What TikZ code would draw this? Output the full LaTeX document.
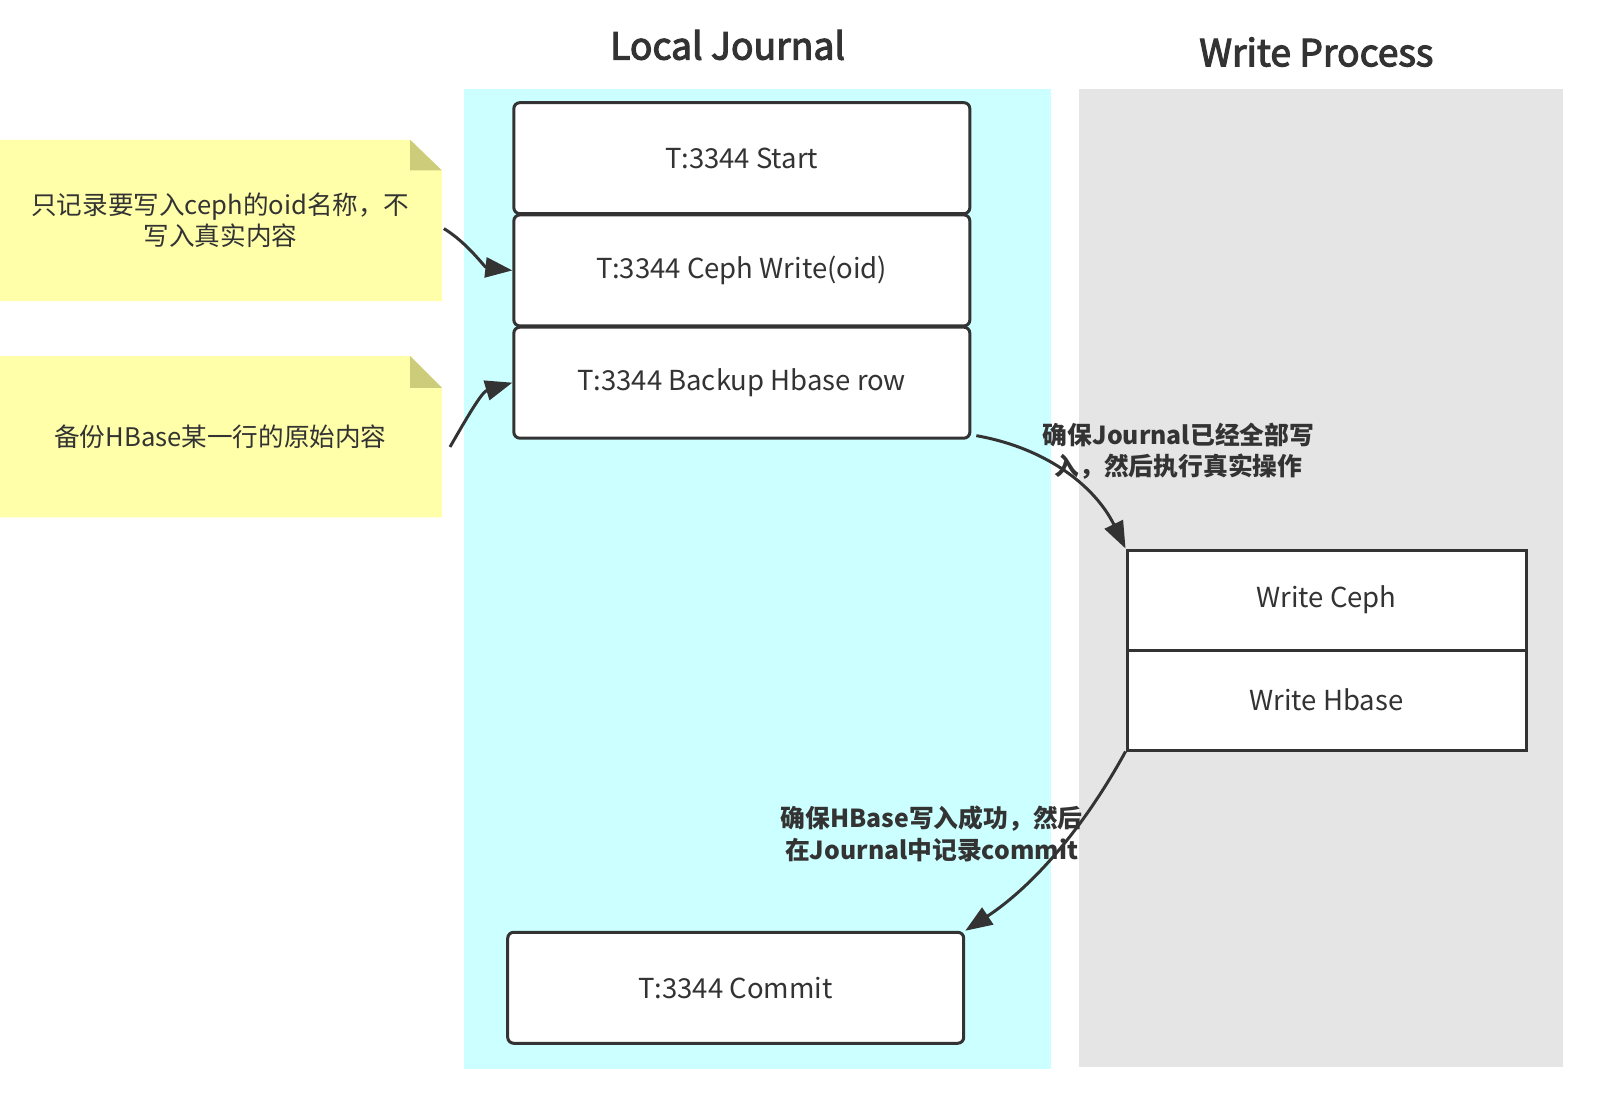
\documentclass[tikz,border=0pt]{standalone}
\usepackage{fontspec}
\setmainfont{Noto Sans CJK SC}
\newfontfamily\ttlfont[FakeBold=3]{Noto Sans CJK SC}
\usetikzlibrary{arrows.meta}
\definecolor{ink}{HTML}{333333}
\definecolor{cyanpanel}{HTML}{CCFFFF}
\definecolor{graypanel}{HTML}{E5E5E5}
\definecolor{notey}{HTML}{FFFFAA}
\definecolor{notefold}{HTML}{CCCC7A}
\tikzset{
  jbox/.style={draw=ink,line width=3pt,rounded corners=6pt,fill=white,minimum width=456pt,minimum height=111pt,text=ink,font=\fontsize{27.5}{32}\selectfont,inner sep=0pt},
  wbox/.style={draw=ink,line width=3pt,fill=white,minimum width=399pt,minimum height=100pt,text=ink,font=\fontsize{27.5}{32}\selectfont,inner sep=0pt},
  ttl/.style={text=ink,font=\fontsize{37.3}{44}\ttlfont},
  notetxt/.style={text=ink,font=\fontsize{25.6}{31.6}\selectfont,align=center},
  lbl/.style={text=ink,font=\fontsize{24.8}{31.6}\selectfont\bfseries,align=center},
  conn/.style={draw=ink,line width=3pt,-{Triangle[length=27pt,width=20pt]}}
}
\begin{document}
\begin{tikzpicture}[x=1.0204pt,y=-1.0204pt]
\useasboundingbox (0,0) rectangle (1568,1080);
% panels
\fill[cyanpanel] (455,87) rectangle (1030,1048);
\fill[graypanel] (1057,87) rectangle (1532,1046);
\node[ttl] (t1) at (713,44) {Local Journal};
\node[ttl] (t2) at (1290,51) {Write Process};
% notes
\fill[notey] (0,137) -- (402,137) -- (433,167) -- (433,295) -- (0,295) -- cycle;
\fill[notefold] (402,137) -- (433,167) -- (402,167) -- cycle;
\node[notetxt] (n1) at (216,216) {只记录要写入ceph的oid名称，不\\写入真实内容};
\fill[notey] (0,349) -- (402,349) -- (433,380) -- (433,507) -- (0,507) -- cycle;
\fill[notefold] (402,349) -- (433,380) -- (402,380) -- cycle;
\node[notetxt] (n2) at (216,428) {备份HBase某一行的原始内容};
% journal boxes
\node[jbox] (b1) at (727,155) {T:3344 Start};
\node[jbox] (b2) at (727,265) {T:3344 Ceph Write(oid)};
\node[jbox] (b3) at (727,375) {T:3344 Backup Hbase row};
\node[jbox] (b4) at (721,968) {T:3344 Commit};
% write process boxes
\node[wbox] (w1) at (1300,588) {Write Ceph};
\node[wbox] (w2) at (1300,686) {Write Hbase};
% connectors
\coordinate (a1s) at (435,224);
\coordinate (a2s) at (441,438);
\draw[conn] (a1s) .. controls (458,238) and (475,262) .. (b2.west);
\draw[conn] (a2s) .. controls (456,412) and (472,384) .. (b3.west);
\draw[conn] ([xshift=5pt,yshift=4pt]b3.south east) .. controls (1030,440) and (1075,480) .. (w1.north west);
\draw[conn] (w2.south west) .. controls (1060,815) and (1010,870) .. (b4.north east);
% labels
\node[lbl] (l1) at (1155,442) {确保Journal已经全部写\\入，然后执行真实操作};
\node[lbl] (l2) at (913,817) {确保HBase写入成功，然后\\在Journal中记录commit};
\end{tikzpicture}
\end{document}
